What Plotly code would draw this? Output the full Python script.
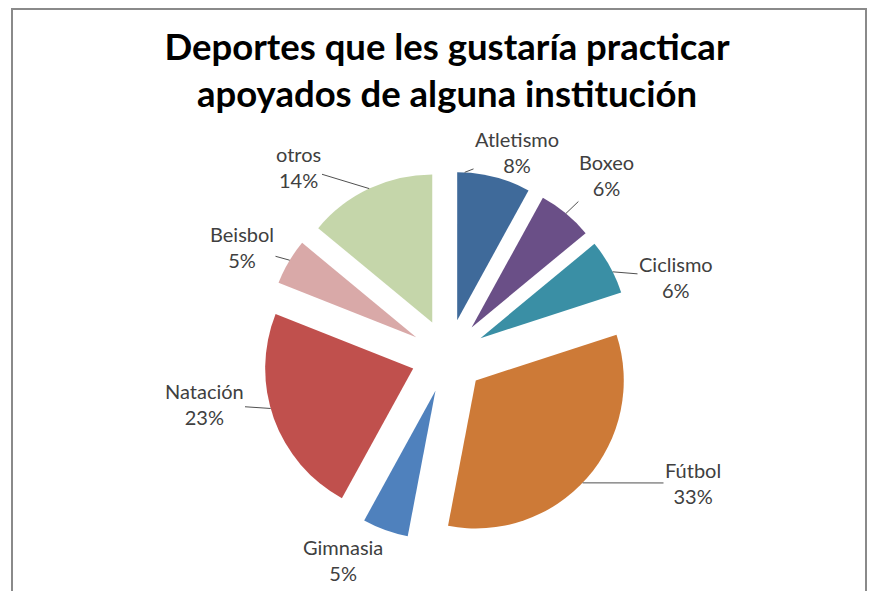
import math
import plotly.graph_objects as go

# datos del gráfico
deportes = ['Atletismo', 'Boxeo', 'Ciclismo', 'Fútbol', 'Gimnasia',
            'Natación', 'Beisbol', 'otros']
porcentajes = [8, 6, 6, 33, 5, 23, 5, 14]
colores = ['#3F6A9A', '#6A4F87', '#3A8FA5', '#CD7A37', '#4F81BD',
           '#C0504D', '#D9A9A8', '#C5D6AA']

W, H = 877, 591
OFF = 8  # margen del body de la página
PULL = 0.25
# caja del pastel en px de la página
PX0, PX1, PY0, PY1 = 263, 633, 171, 541

# posición de las etiquetas (centro del texto, px de página) y punto de la
# línea guía dentro del sector (fracción del ángulo); None = sin línea
pos_etiquetas = [(517, 152), (606, 175), (676, 277), (693, 483),
                 (343, 560), (204, 404), (242, 247), (298, 167)]
frac_guia = [0.1, 0.5, 0.6, 0.52, None, 0.55, 0.54, 0.5]


def fx(x):
    return (x - OFF) / W


def fy(y):
    return 1 - (y - OFF) / H


fig = go.Figure(go.Pie(
    labels=deportes,
    values=porcentajes,
    sort=False,
    direction='clockwise',
    rotation=0,
    pull=[PULL] * len(deportes),
    domain=dict(x=[fx(PX0), fx(PX1)], y=[fy(PY1), fy(PY0)]),
    marker=dict(colors=colores, line=dict(color='white', width=0)),
    textinfo='none',
    hoverinfo='label+percent',
    showlegend=False,
))

# etiquetas con líneas guía
cx, cy = (PX0 + PX1) / 2, (PY0 + PY1) / 2
r = (PX1 - PX0) / (2 + 2 * PULL)
total = sum(porcentajes)
acum = 0
anotaciones = []
for lab, val, (lx, ly), f in zip(deportes, porcentajes, pos_etiquetas, frac_guia):
    ini = acum / total * 360
    span = val / total * 360
    acum += val
    texto = f'{lab}<br>{round(val / total * 100)}%'
    fuente = dict(family='Lato, sans-serif', size=20, color='#404040')
    if f is None:
        anotaciones.append(dict(x=fx(lx), y=fy(ly), xref='paper', yref='paper',
                                xanchor='center', yanchor='middle',
                                text=texto, showarrow=False, font=fuente))
        continue
    m = math.radians(ini + span / 2)
    phi = math.radians(ini + f * span)
    sx = cx + PULL * r * math.sin(m)
    sy = cy - PULL * r * math.cos(m)
    tx = sx + r * math.sin(phi)
    ty = sy - r * math.cos(phi)
    anotaciones.append(dict(
        x=fx(tx), y=fy(ty), xref='paper', yref='paper',
        ax=lx - tx, ay=ly - ty, text=texto, font=fuente,
        showarrow=True, arrowhead=0, arrowwidth=1, arrowcolor='#505050',
        standoff=0,
    ))

fig.update_layout(
    width=W,
    height=H,
    margin=dict(l=0, r=0, t=0, b=0, autoexpand=False),
    paper_bgcolor='white',
    plot_bgcolor='white',
    title=dict(
        text='<b>Deportes que les gustaría practicar<br>apoyados de alguna institución</b>',
        x=fx(447), xref='paper', xanchor='center',
        y=1 - 52 / H, yref='paper', yanchor='middle',
        font=dict(family='Lato, sans-serif', size=36.5, color='black'),
    ),
    annotations=anotaciones,
    shapes=[dict(
        type='rect', xref='paper', yref='paper',
        x0=fx(12), x1=fx(866), y0=-0.05, y1=1 - 1 / H,
        line=dict(color='#8A8A8A', width=2), fillcolor='rgba(0,0,0,0)',
        layer='below',
    )],
)

fig.write_html('out.html')
